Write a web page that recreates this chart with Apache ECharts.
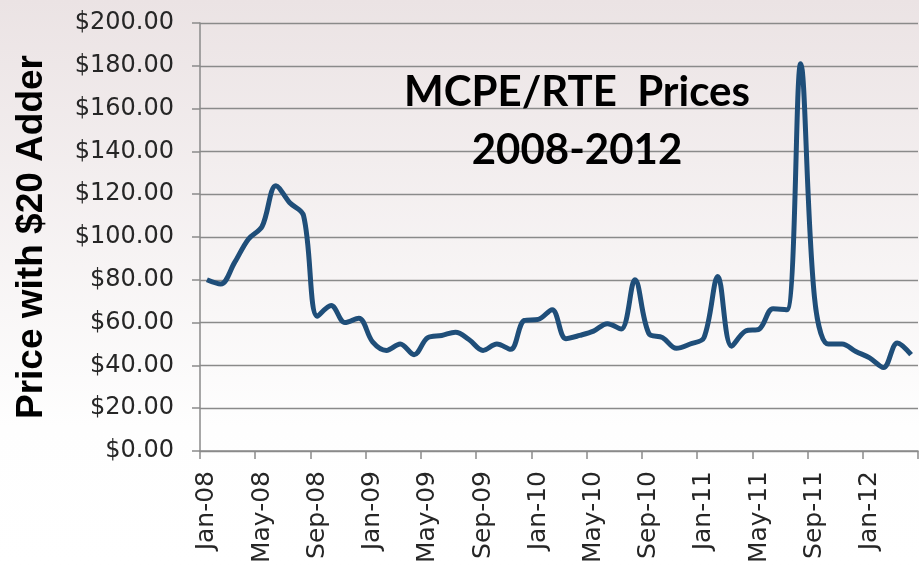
<!DOCTYPE html>
<html>
<head>
<meta charset="utf-8">
<script src="https://cdn.jsdelivr.net/npm/echarts@6/dist/echarts.min.js"></script>
<style>
  html, body { margin: 0; padding: 0; }
  #chartContainer { width: 919px; height: 568px; }
</style>
</head>
<body>
<div id="chartContainer"></div>
<script>
// monthly categories, Jan-08 .. Apr-12
var MONTHS = [
  "Jan-08", "Feb-08", "Mar-08", "Apr-08", "May-08", "Jun-08", "Jul-08", "Aug-08", "Sep-08", "Oct-08", "Nov-08", "Dec-08",
  "Jan-09", "Feb-09", "Mar-09", "Apr-09", "May-09", "Jun-09", "Jul-09", "Aug-09", "Sep-09", "Oct-09", "Nov-09", "Dec-09",
  "Jan-10", "Feb-10", "Mar-10", "Apr-10", "May-10", "Jun-10", "Jul-10", "Aug-10", "Sep-10", "Oct-10", "Nov-10", "Dec-10",
  "Jan-11", "Feb-11", "Mar-11", "Apr-11", "May-11", "Jun-11", "Jul-11", "Aug-11", "Sep-11", "Oct-11", "Nov-11", "Dec-11",
  "Jan-12", "Feb-12", "Mar-12", "Apr-12",
];

// price with $20 adder
var PRICES = [
  80, 78, 88, 99, 105, 124, 116, 110, 63, 68, 60, 62,
  51, 47, 50, 45, 53, 54, 55.5, 52, 47, 50, 47.5, 61,
  61.5, 66, 52.5, 54, 56, 59.5, 57, 80, 55, 53, 48, 50,
  53, 81.5, 49, 56, 57, 66.5, 66, 181, 72, 50, 50, 46.5,
  43.5, 39, 50.5, 45,
];

var TITLE_TEXT = "MCPE/RTE  Prices\n2008-2012";
var Y_NAME = "Price with $20 Adder";

var CHART;
var LABEL_FONT = "DejaVu Sans";

var CHART_OPTION = {
  backgroundColor: {
    type: "linear",
    x: 0, y: 0, x2: 0, y2: 1,
    colorStops: [
      { offset: 0, color: "#ebe3e4" },
      { offset: 0.75, color: "#fefefe" },
      { offset: 1, color: "#ffffff" },
    ],
  },
  title: {
    text: TITLE_TEXT,
    left: 572,
    top: 58,
    textAlign: "center",
    textStyle: {
      fontFamily: "Lato",
      fontWeight: "bold",
      fontSize: 42,
      lineHeight: 58,
      color: "#000000",
    },
  },
  grid: {
    left: 200,
    right: 1,
    top: 23,
    bottom: 117,
  },
  xAxis: {
    type: "category",
    data: MONTHS,
    boundaryGap: true,
    axisLine: { lineStyle: { color: "#8a8a8a", width: 1.5 } },
    axisTick: { show: true, interval: 3, length: 8, lineStyle: { color: "#8a8a8a", width: 1.5 } },
    axisLabel: {
      interval: 3,
      rotate: 90,
      margin: 20,
      fontFamily: LABEL_FONT,
      fontSize: 25,
      color: "#262626",
    },
    splitLine: { show: false },
  },
  yAxis: {
    type: "value",
    min: 0,
    max: 200,
    interval: 20,
    name: Y_NAME,
    nameLocation: "middle",
    nameGap: 150,
    nameRotate: 90,
    nameTextStyle: {
      fontFamily: "Liberation Sans",
      fontWeight: "bold",
      fontSize: 37,
      color: "#000000",
    },
    axisLine: { show: true, lineStyle: { color: "#8a8a8a", width: 1.5 } },
    axisTick: { show: true, length: 8, lineStyle: { color: "#8a8a8a", width: 1.5 } },
    axisLabel: {
      margin: 26,
      fontFamily: LABEL_FONT,
      fontSize: 24,
      color: "#262626",
      formatter: (value) => "$" + value.toFixed(2),
    },
    splitLine: { show: true, lineStyle: { color: "#8a8a8a", width: 1.4 } },
  },
  series: [
    {
      name: "MCPE/RTE",
      type: "line",
      data: PRICES,
      smooth: 0.35,
      showSymbol: false,
      lineStyle: { color: "#1f4e79", width: 5 },
      itemStyle: { color: "#1f4e79" },
    },
  ],
};

window.onload = (_) => {
  CHART = echarts.init(document.getElementById("chartContainer"), null, { renderer: "canvas" });
  CHART.setOption(CHART_OPTION);
};
</script>
</body>
</html>
